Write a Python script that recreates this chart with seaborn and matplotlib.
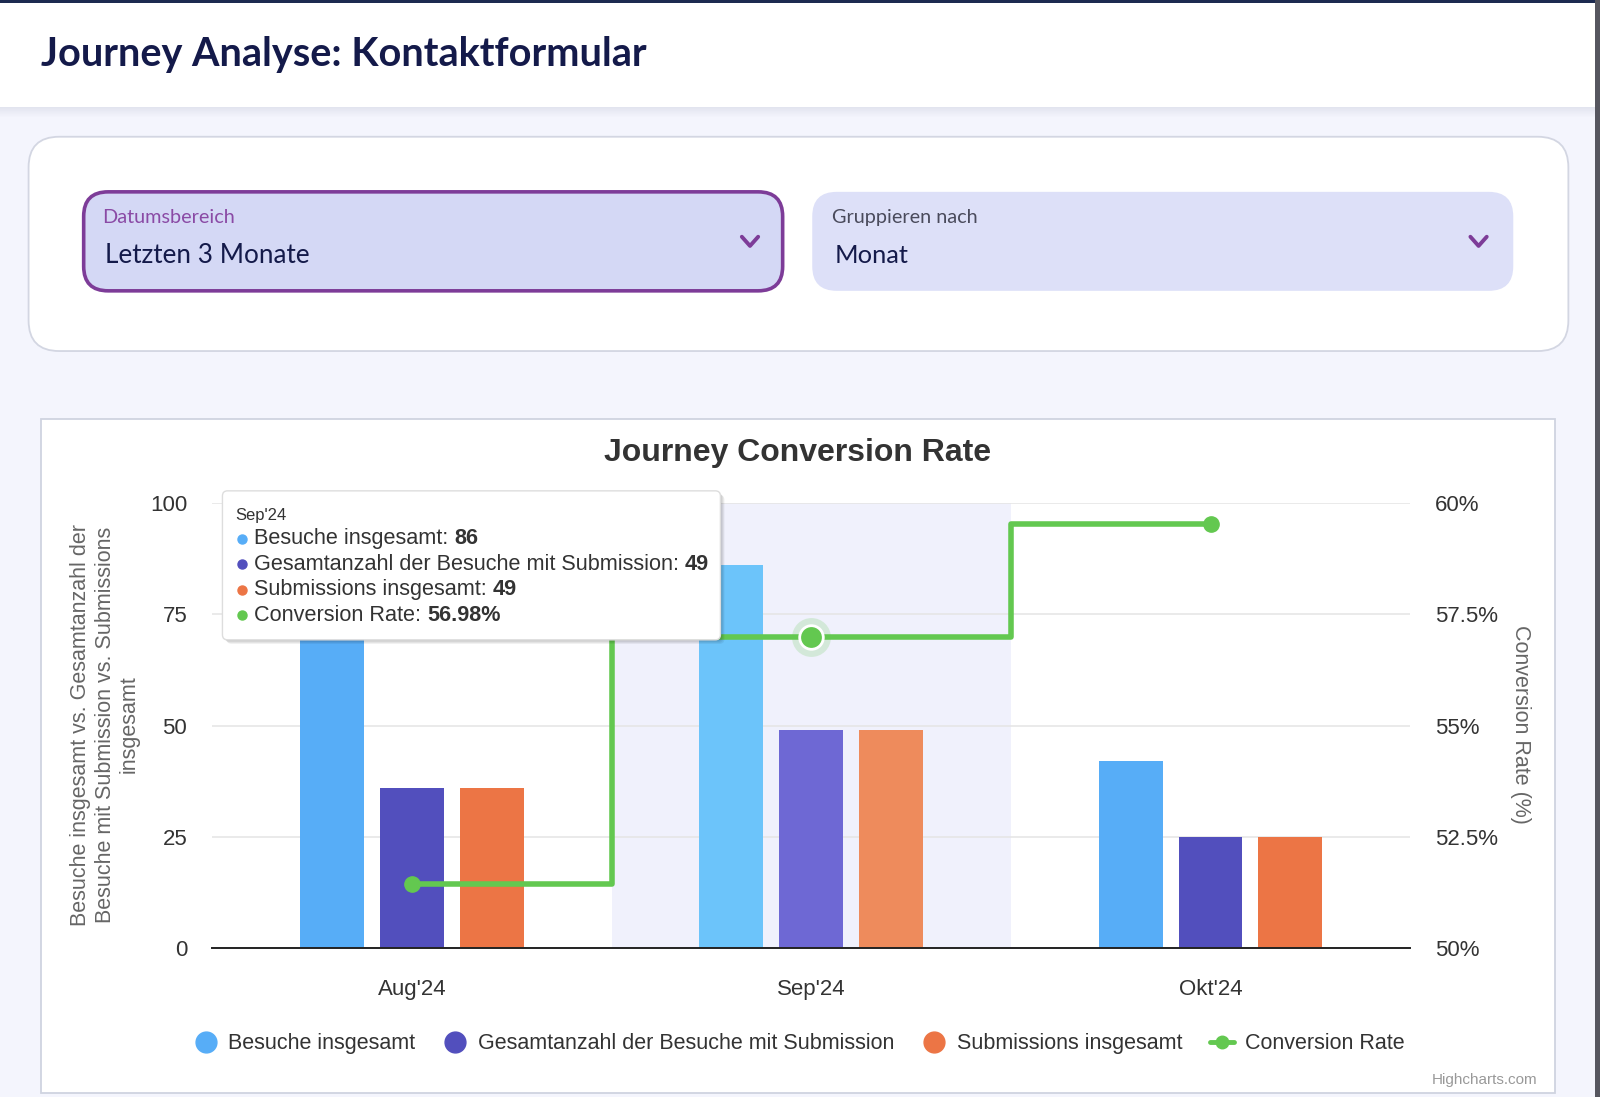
import numpy as np
import pandas as pd
import matplotlib
matplotlib.use("Agg")
import matplotlib.pyplot as plt
from matplotlib.patches import FancyBboxPatch, Rectangle
from matplotlib.lines import Line2D
import seaborn as sns

# data
months = ["Aug'24", "Sep'24", "Okt'24"]
series = ["Besuche insgesamt", "Gesamtanzahl der Besuche mit Submission",
          "Submissions insgesamt"]
besuche = [70, 86, 42]
besuche_submission = [36, 49, 25]
submissions = [36, 49, 25]
conversion_rate = [51.43, 56.98, 59.52]
left_ticks = [0, 25, 50, 75, 100]
right_ticks = [50, 52.5, 55, 57.5, 60]
right_labels = ["50%", "52.5%", "55%", "57.5%", "60%"]

bar_colors = ["#57adf7", "#524fbd", "#ec7545"]
hover_colors = ["#6cc4fa", "#6e68d4", "#ee8b5c"]
green = "#63c850"
navy = "#141a4a"

W, H = 1568, 1075  # layout units of the screenshot
HEAD_FONT = ["Lato", "DejaVu Sans"]
CHART_FONT = ["Liberation Sans", "DejaVu Sans"]

sns.set_theme(style="white")
plt.rcParams["font.family"] = CHART_FONT

fig = plt.figure(figsize=(16, 10.97), dpi=100)
fig.patch.set_facecolor("#f4f5fd")


def frac(x0, y0, x1, y1):
    """ pixel box (top-left origin) -> figure fraction rect """
    return [x0 / W, 1 - y1 / H, (x1 - x0) / W, (y1 - y0) / H]


""" Background page: header, filter card, chart container """
bg = fig.add_axes([0, 0, 1, 1])
bg.set_xlim(0, W)
bg.set_ylim(H, 0)
bg.axis("off")
for i in range(10):
    bg.add_patch(Rectangle((0, 105 + i), W, 1, color="#8a8fa8",
                           alpha=0.16 * (1 - i / 10), lw=0))
bg.add_patch(Rectangle((0, 0), W, 105, color="white", lw=0))
bg.add_patch(Rectangle((0, 0), W, 2.5, color="#1c2a50", lw=0))
bg.text(40, 53, "Journey Analyse: Kontaktformular", fontsize=28.5, fontweight="bold",
        color=navy, va="center", ha="left", family=HEAD_FONT)

bg.add_patch(FancyBboxPatch((28, 134), 1509, 210, boxstyle="round,pad=0,rounding_size=30",
                            fc="white", ec="#d3d6e2", lw=1.3))
bg.add_patch(FancyBboxPatch((82, 188), 685, 97, boxstyle="round,pad=0,rounding_size=24",
                            fc="#d4d8f5", ec="#7d3c98", lw=2.6))
bg.add_patch(FancyBboxPatch((796, 188), 687, 97, boxstyle="round,pad=0,rounding_size=24",
                            fc="#dde0f8", ec="none"))
bg.text(100, 213, "Datumsbereich", fontsize=14.3, color="#8a4aa5", va="center", family=HEAD_FONT)
bg.text(103, 250, "Letzten 3 Monate", fontsize=18.8, color=navy, va="center", family=HEAD_FONT)
bg.text(815, 213, "Gruppieren nach", fontsize=14.3, color="#4a4b5c", va="center", family=HEAD_FONT)
bg.text(818, 250, "Monat", fontsize=18.3, color=navy, va="center", family=HEAD_FONT)
for cx in [735, 1449]:
    bg.plot([cx - 8, cx, cx + 8], [232, 241, 232], color="#7d3c98", lw=2.8,
            solid_capstyle="round", solid_joinstyle="round")

bg.add_patch(Rectangle((40, 411), 1484, 660, fc="white", ec="#cfd3e0", lw=1.3))
bg.add_patch(Rectangle((1563, 0), 5, H, color="#56565f", lw=0))
bg.text(782, 444, "Journey Conversion Rate", fontsize=23, fontweight="bold",
        color="#333333", ha="center", va="center")
bg.text(103, 710, "Besuche insgesamt vs. Gesamtanzahl der\nBesuche mit Submission vs. Submissions\ninsgesamt",
        rotation=90, fontsize=15.5, color="#666666", ha="center", va="center",
        multialignment="center", linespacing=1.2)
bg.text(1490, 710, "Conversion Rate (%)", rotation=-90, fontsize=15.5,
        color="#666666", ha="center", va="center")
bg.text(1507, 1058, "Highcharts.com", fontsize=11, color="#999999", ha="right", va="center")

""" Chart """
df = pd.DataFrame({
    "Monat": months * 3,
    "Serie": np.repeat(series, len(months)),
    "Wert": besuche + besuche_submission + submissions,
})
ax = fig.add_axes(frac(208, 493, 1382, 929))
ax.patch.set_alpha(0)
ax.axvspan(0.5, 1.5, color="#f0f1fc", zorder=0, lw=0)
sns.barplot(data=df, x="Monat", y="Wert", hue="Serie", hue_order=series, order=months,
            palette=bar_colors, width=0.6, gap=0.2, ax=ax, legend=False,
            saturation=1, zorder=2)
for k, cont in enumerate(ax.containers):
    cont[1].set_facecolor(hover_colors[k])
    for p in cont:
        p.set_edgecolor("none")
ax.set_xlim(-0.5, 2.5)
ax.set_ylim(0, 100)
ax.set_yticks(left_ticks)
ax.set_xlabel("")
ax.set_ylabel("")
ax.yaxis.grid(True, color="#e6e6e6", lw=1.2)
ax.set_axisbelow(True)
for s in ["top", "right", "left"]:
    ax.spines[s].set_visible(False)
ax.spines["bottom"].set_color("#222222")
ax.spines["bottom"].set_linewidth(1.4)
ax.tick_params(axis="y", length=0, pad=18, labelsize=16, labelcolor="#333333")
ax.tick_params(axis="x", length=0, pad=22, labelsize=16, labelcolor="#333333")

ax2 = ax.twinx()
sns.lineplot(x=[0, 1, 2], y=conversion_rate, ax=ax2, color=green, lw=4,
             drawstyle="steps-mid", zorder=4)
ax2.plot([0, 2], [conversion_rate[0], conversion_rate[2]], "o", color=green, ms=11, zorder=5)
ax2.plot([1], [conversion_rate[1]], "o", color=green, ms=28, alpha=0.2, mec="none", zorder=5)
ax2.plot([1], [conversion_rate[1]], "o", color=green, ms=17, mec="white", mew=2, zorder=6)
ax2.set_ylim(50, 60)
ax2.set_yticks(right_ticks)
ax2.set_yticklabels(right_labels)
ax2.grid(False)
for s in ax2.spines.values():
    s.set_visible(False)
ax2.tick_params(axis="y", length=0, pad=18, labelsize=16, labelcolor="#333333")

""" Legend """
handles = [Line2D([], [], ls="none", marker="o", ms=15, color=c) for c in bar_colors]
handles.append(Line2D([], [], color=green, lw=3.5, marker="o", ms=9))
fig.legend(handles, series + ["Conversion Rate"], loc="center", ncol=4,
           bbox_to_anchor=(783 / W, 1 - 1023 / H), frameon=False, fontsize=15.5,
           handlelength=1.1, handletextpad=0.5, columnspacing=1.3,
           labelcolor="#333333")

""" Tooltip overlay """
ov = fig.add_axes([0, 0, 1, 1])
ov.set_xlim(0, W)
ov.set_ylim(H, 0)
ov.axis("off")
ov.patch.set_alpha(0)
for i in range(4):
    ov.add_patch(FancyBboxPatch((218 + 1 + i, 481 + 1 + i), 488, 146,
                                boxstyle="round,pad=0,rounding_size=5",
                                fc="#000000", alpha=0.06, ec="none"))
ov.add_patch(FancyBboxPatch((218, 481), 488, 146, boxstyle="round,pad=0,rounding_size=5",
                            fc="white", ec="#dddddd", lw=1))
ov.text(231, 505, months[1], fontsize=12, color="#333333", va="center")
tip_values = [str(besuche[1]), str(besuche_submission[1]), str(submissions[1]),
              f"{conversion_rate[1]:.2f}%"]
for i, (name, val, col) in enumerate(zip(series + ["Conversion Rate"], tip_values,
                                         bar_colors + [green])):
    y = 528 + i * 25
    ov.plot(237, y, "o", color=col, ms=6.5)
    t = ov.text(249, y, f"{name}: ", fontsize=15.6, color="#333333", va="center")
    ov.annotate(val, xycoords=t, xy=(1, 0.5), va="center", ha="left",
                fontsize=15.6, fontweight="bold", color="#333333")

fig.savefig("out.png", dpi=100, facecolor=fig.get_facecolor())
